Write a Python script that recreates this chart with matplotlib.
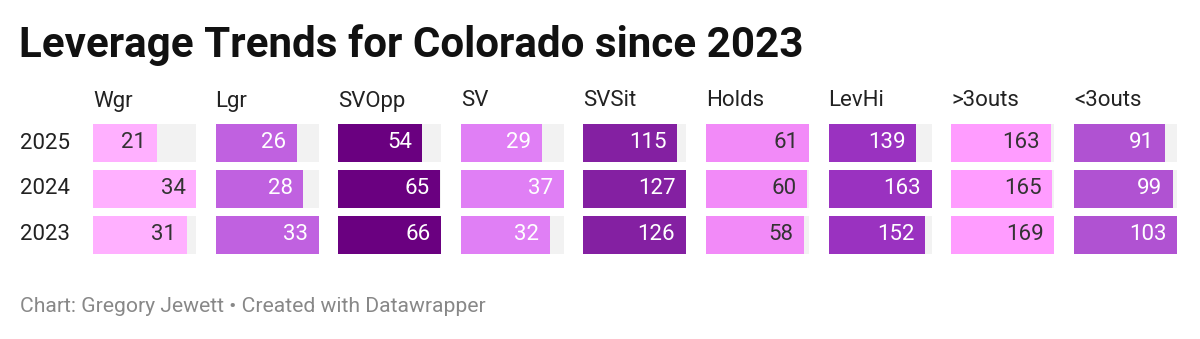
import matplotlib.pyplot as plt

# DATA
years = ['2025', '2024', '2023']
stats = ['Wgr', 'Lgr', 'SVOpp', 'SV', 'SVSit', 'Holds', 'LevHi', '>3outs', '<3outs']
wgr = [21, 34, 31]
lgr = [26, 28, 33]
svopp = [54, 65, 66]
sv = [29, 37, 32]
svsit = [115, 127, 126]
holds = [61, 60, 58]
levhi = [139, 163, 152]
over3 = [163, 165, 169]
under3 = [91, 99, 103]
values = [wgr, lgr, svopp, sv, svsit, holds, levhi, over3, under3]

colors = ['#ffb0ff', '#c061e0', '#6a0080', '#e07ff5', '#8420a2',
          '#f28af8', '#9a32c0', '#ff9cff', '#b052d2']
dark_text = [True, False, False, False, False, True, False, True, False]

W, H = 1200, 339
plt.rcParams['font.family'] = ['Roboto', 'DejaVu Sans']
fig = plt.figure(figsize=(W / 100, H / 100), dpi=100)

# title and footer
fig.text(19 / W, 1 - 45 / H, 'Leverage Trends for Colorado since 2023',
         fontsize=30.3, fontweight='bold', color='#111111', va='center', ha='left')
fig.text(20 / W, 1 - 306 / H, 'Chart: Gregory Jewett \u2022 Created with Datawrapper',
         fontsize=15.2, color='#888888', va='center', ha='left')

# year labels
row_top, row_pitch = 120, 46
for j, yr in enumerate(years):
    fig.text(20 / W, 1 - (row_top + row_pitch * (j + 0.5)) / H, yr,
             fontsize=16, color='#222222', va='center', ha='left')

# one small axes per stat
col_left, col_pitch, col_w = 93, 122.6, 103
ax_h = row_pitch * 3
for i, (name, vals) in enumerate(zip(stats, values)):
    x0 = col_left + i * col_pitch
    ax = fig.add_axes([x0 / W, 1 - (row_top + ax_h) / H, col_w / W, ax_h / H])
    vmax = max(vals)
    ypos = list(range(len(vals)))
    ax.barh(ypos, [vmax] * len(vals), height=0.83, color='#f2f2f2')
    ax.barh(ypos, vals, height=0.83, color=colors[i])
    tc = '#333333' if dark_text[i] else 'white'
    for y, v in zip(ypos, vals):
        ax.annotate(str(v), (v, y), xytext=(-7.5, 0), textcoords='offset points',
                    ha='right', va='center', fontsize=16, color=tc)
    ax.set_xlim(0, vmax)
    ax.set_ylim(2.5, -0.5)
    ax.axis('off')
    fig.text(x0 / W, 1 - 101 / H, name, fontsize=16, color='#222222',
             va='center', ha='left')

fig.savefig('out.png', dpi=100)
